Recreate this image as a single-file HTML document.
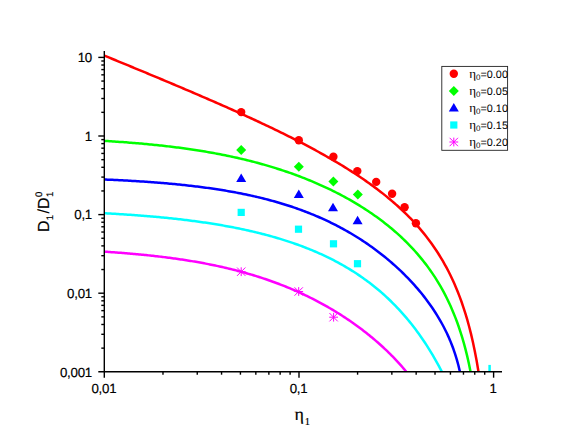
<!DOCTYPE html>
<html><head><meta charset="utf-8"><title>chart</title>
<style>html,body{margin:0;padding:0;background:#fff;}svg{display:block;}text{font-family:"Liberation Sans",sans-serif;fill:#000;stroke:#000;stroke-width:0.18px;text-rendering:geometricPrecision;}.ser{font-family:"Liberation Serif",serif;}</style></head><body>
<svg width="583" height="446" viewBox="0 0 583 446">
<rect width="583" height="446" fill="#fff"/>
<defs><clipPath id="c"><rect x="104.3" y="40" width="420" height="331.7"/></clipPath></defs>
<g fill="none" stroke-width="2.5" stroke-linejoin="round" clip-path="url(#c)">
<path stroke="#ff00ff" d="M104.40,251.68 L105.79,251.77 L107.17,251.86 L108.56,251.95 L109.95,252.05 L111.33,252.14 L112.72,252.24 L114.11,252.34 L115.49,252.44 L116.88,252.54 L118.27,252.65 L119.65,252.75 L121.04,252.86 L122.43,252.97 L123.81,253.08 L125.20,253.19 L126.59,253.30 L127.97,253.42 L129.36,253.54 L130.75,253.66 L132.13,253.78 L133.52,253.90 L134.91,254.02 L136.29,254.15 L137.68,254.28 L139.07,254.41 L140.45,254.54 L141.84,254.68 L143.23,254.81 L144.61,254.95 L146.00,255.09 L147.39,255.24 L148.77,255.38 L150.16,255.53 L151.55,255.68 L152.93,255.83 L154.32,255.99 L155.71,256.14 L157.09,256.30 L158.48,256.46 L159.87,256.63 L161.25,256.79 L162.64,256.96 L164.03,257.13 L165.41,257.30 L166.80,257.48 L168.19,257.66 L169.57,257.84 L170.96,258.02 L172.35,258.21 L173.73,258.40 L175.12,258.59 L176.51,258.79 L177.89,258.99 L179.28,259.19 L180.67,259.39 L182.05,259.60 L183.44,259.81 L184.82,260.02 L186.21,260.24 L187.60,260.46 L188.98,260.68 L190.37,260.90 L191.76,261.13 L193.14,261.36 L194.53,261.60 L195.92,261.84 L197.30,262.08 L198.69,262.32 L200.08,262.57 L201.46,262.83 L202.85,263.08 L204.24,263.34 L205.62,263.61 L207.01,263.87 L208.40,264.14 L209.78,264.42 L211.17,264.70 L212.56,264.98 L213.94,265.26 L215.33,265.55 L216.72,265.85 L218.10,266.15 L219.49,266.45 L220.88,266.75 L222.26,267.07 L223.65,267.38 L225.04,267.70 L226.42,268.02 L227.81,268.35 L229.20,268.68 L230.58,269.02 L231.97,269.36 L233.36,269.71 L234.74,270.06 L236.13,270.41 L237.52,270.77 L238.90,271.14 L240.29,271.51 L241.68,271.88 L243.06,272.26 L244.45,272.64 L245.84,273.03 L247.22,273.43 L248.61,273.83 L250.00,274.23 L251.38,274.64 L252.77,275.06 L254.16,275.48 L255.54,275.90 L256.93,276.33 L258.32,276.77 L259.70,277.21 L261.09,277.66 L262.48,278.11 L263.86,278.57 L265.25,279.04 L266.64,279.51 L268.02,279.99 L269.41,280.47 L270.80,280.96 L272.18,281.45 L273.57,281.95 L274.96,282.46 L276.34,282.97 L277.73,283.49 L279.12,284.02 L280.50,284.55 L281.89,285.09 L283.28,285.63 L284.66,286.19 L286.05,286.74 L287.44,287.31 L288.82,287.88 L290.21,288.46 L291.60,289.05 L292.98,289.64 L294.37,290.24 L295.76,290.84 L297.14,291.46 L298.53,292.08 L299.92,292.71 L301.30,293.34 L302.69,293.99 L304.08,294.64 L305.46,295.29 L306.85,295.96 L308.24,296.63 L309.62,297.31 L311.01,298.00 L312.40,298.70 L313.78,299.40 L315.17,300.12 L316.56,300.84 L317.94,301.57 L319.33,302.30 L320.72,303.05 L322.10,303.80 L323.49,304.57 L324.88,305.34 L326.26,306.12 L327.65,306.91 L329.04,307.71 L330.42,308.51 L331.81,309.33 L333.20,310.15 L334.58,310.99 L335.97,311.83 L337.36,312.69 L338.74,313.55 L340.13,314.42 L341.51,315.31 L342.90,316.20 L344.29,317.10 L345.67,318.02 L347.06,318.94 L348.45,319.88 L349.83,320.82 L351.22,321.78 L352.61,322.75 L353.99,323.73 L355.38,324.72 L356.77,325.72 L358.15,326.73 L359.54,327.76 L360.93,328.80 L362.31,329.85 L363.70,330.91 L365.09,331.99 L366.47,333.08 L367.86,334.18 L369.25,335.30 L370.63,336.43 L372.02,337.57 L373.41,338.73 L374.79,339.90 L376.18,341.09 L377.57,342.30 L378.95,343.52 L380.34,344.76 L381.73,346.01 L383.11,347.28 L384.50,348.57 L385.89,349.88 L387.27,351.21 L388.66,352.55 L390.05,353.92 L391.43,355.31 L392.82,356.72 L394.21,358.15 L395.59,359.60 L396.98,361.08 L398.37,362.58 L399.75,364.11 L401.14,365.66 L402.53,367.25 L403.91,368.86 L405.30,370.50 L406.69,372.18 L408.07,373.89"/>
<path stroke="#00ffff" d="M104.40,213.27 L105.95,213.35 L107.50,213.43 L109.05,213.52 L110.59,213.60 L112.14,213.69 L113.69,213.78 L115.24,213.87 L116.79,213.96 L118.34,214.06 L119.89,214.15 L121.44,214.25 L122.98,214.35 L124.53,214.45 L126.08,214.55 L127.63,214.65 L129.18,214.76 L130.73,214.86 L132.28,214.97 L133.83,215.08 L135.37,215.19 L136.92,215.31 L138.47,215.42 L140.02,215.54 L141.57,215.66 L143.12,215.78 L144.67,215.91 L146.22,216.03 L147.76,216.16 L149.31,216.29 L150.86,216.42 L152.41,216.55 L153.96,216.69 L155.51,216.83 L157.06,216.97 L158.61,217.11 L160.15,217.26 L161.70,217.40 L163.25,217.55 L164.80,217.71 L166.35,217.86 L167.90,218.02 L169.45,218.18 L171.00,218.34 L172.54,218.50 L174.09,218.67 L175.64,218.84 L177.19,219.01 L178.74,219.19 L180.29,219.36 L181.84,219.54 L183.39,219.73 L184.93,219.91 L186.48,220.10 L188.03,220.30 L189.58,220.49 L191.13,220.69 L192.68,220.89 L194.23,221.09 L195.78,221.30 L197.32,221.51 L198.87,221.72 L200.42,221.94 L201.97,222.16 L203.52,222.39 L205.07,222.61 L206.62,222.84 L208.17,223.08 L209.71,223.31 L211.26,223.56 L212.81,223.80 L214.36,224.05 L215.91,224.30 L217.46,224.56 L219.01,224.82 L220.56,225.08 L222.10,225.35 L223.65,225.62 L225.20,225.90 L226.75,226.18 L228.30,226.46 L229.85,226.75 L231.40,227.04 L232.95,227.34 L234.49,227.64 L236.04,227.95 L237.59,228.26 L239.14,228.58 L240.69,228.90 L242.24,229.22 L243.79,229.55 L245.34,229.89 L246.88,230.23 L248.43,230.57 L249.98,230.92 L251.53,231.28 L253.08,231.64 L254.63,232.00 L256.18,232.38 L257.73,232.75 L259.27,233.14 L260.82,233.52 L262.37,233.92 L263.92,234.32 L265.47,234.72 L267.02,235.14 L268.57,235.55 L270.11,235.98 L271.66,236.41 L273.21,236.85 L274.76,237.29 L276.31,237.74 L277.86,238.20 L279.41,238.66 L280.96,239.13 L282.50,239.61 L284.05,240.09 L285.60,240.59 L287.15,241.09 L288.70,241.59 L290.25,242.11 L291.80,242.63 L293.35,243.16 L294.89,243.70 L296.44,244.25 L297.99,244.80 L299.54,245.36 L301.09,245.94 L302.64,246.52 L304.19,247.11 L305.74,247.71 L307.28,248.31 L308.83,248.93 L310.38,249.56 L311.93,250.20 L313.48,250.84 L315.03,251.50 L316.58,252.17 L318.13,252.84 L319.67,253.53 L321.22,254.23 L322.77,254.94 L324.32,255.66 L325.87,256.39 L327.42,257.14 L328.97,257.89 L330.52,258.66 L332.06,259.44 L333.61,260.23 L335.16,261.04 L336.71,261.86 L338.26,262.69 L339.81,263.54 L341.36,264.40 L342.91,265.27 L344.45,266.16 L346.00,267.06 L347.55,267.98 L349.10,268.91 L350.65,269.86 L352.20,270.82 L353.75,271.80 L355.30,272.80 L356.84,273.81 L358.39,274.84 L359.94,275.89 L361.49,276.96 L363.04,278.05 L364.59,279.15 L366.14,280.27 L367.69,281.42 L369.23,282.58 L370.78,283.76 L372.33,284.97 L373.88,286.19 L375.43,287.44 L376.98,288.71 L378.53,290.00 L380.08,291.32 L381.62,292.66 L383.17,294.03 L384.72,295.42 L386.27,296.83 L387.82,298.27 L389.37,299.74 L390.92,301.24 L392.47,302.77 L394.01,304.32 L395.56,305.90 L397.11,307.52 L398.66,309.16 L400.21,310.84 L401.76,312.55 L403.31,314.30 L404.86,316.07 L406.40,317.89 L407.95,319.74 L409.50,321.63 L411.05,323.55 L412.60,325.52 L414.15,327.52 L415.70,329.57 L417.25,331.66 L418.79,333.79 L420.34,335.97 L421.89,338.20 L423.44,340.47 L424.99,342.79 L426.54,345.16 L428.09,347.58 L429.63,350.06 L431.18,352.59 L432.73,355.18 L434.28,357.83 L435.83,360.54 L437.38,363.30 L438.93,366.14 L440.48,369.04 L442.02,372.01 L443.57,375.04"/>
<path stroke="#0000ff" d="M104.40,179.49 L106.03,179.56 L107.66,179.63 L109.29,179.70 L110.92,179.78 L112.55,179.85 L114.19,179.93 L115.82,180.01 L117.45,180.09 L119.08,180.17 L120.71,180.26 L122.34,180.34 L123.97,180.43 L125.60,180.52 L127.23,180.61 L128.86,180.70 L130.49,180.80 L132.13,180.89 L133.76,180.99 L135.39,181.09 L137.02,181.19 L138.65,181.29 L140.28,181.40 L141.91,181.50 L143.54,181.61 L145.17,181.72 L146.80,181.84 L148.44,181.95 L150.07,182.07 L151.70,182.19 L153.33,182.31 L154.96,182.43 L156.59,182.56 L158.22,182.69 L159.85,182.82 L161.48,182.95 L163.11,183.09 L164.74,183.23 L166.38,183.37 L168.01,183.51 L169.64,183.66 L171.27,183.81 L172.90,183.96 L174.53,184.11 L176.16,184.27 L177.79,184.43 L179.42,184.59 L181.05,184.76 L182.68,184.93 L184.32,185.10 L185.95,185.28 L187.58,185.46 L189.21,185.64 L190.84,185.83 L192.47,186.01 L194.10,186.21 L195.73,186.40 L197.36,186.60 L198.99,186.80 L200.62,187.01 L202.26,187.22 L203.89,187.44 L205.52,187.65 L207.15,187.88 L208.78,188.10 L210.41,188.33 L212.04,188.57 L213.67,188.81 L215.30,189.05 L216.93,189.30 L218.57,189.55 L220.20,189.80 L221.83,190.06 L223.46,190.33 L225.09,190.60 L226.72,190.87 L228.35,191.15 L229.98,191.44 L231.61,191.73 L233.24,192.02 L234.87,192.32 L236.51,192.63 L238.14,192.94 L239.77,193.26 L241.40,193.58 L243.03,193.90 L244.66,194.24 L246.29,194.58 L247.92,194.92 L249.55,195.27 L251.18,195.63 L252.81,195.99 L254.45,196.36 L256.08,196.74 L257.71,197.12 L259.34,197.51 L260.97,197.90 L262.60,198.30 L264.23,198.71 L265.86,199.13 L267.49,199.55 L269.12,199.98 L270.75,200.42 L272.39,200.86 L274.02,201.31 L275.65,201.77 L277.28,202.24 L278.91,202.71 L280.54,203.20 L282.17,203.69 L283.80,204.19 L285.43,204.70 L287.06,205.21 L288.70,205.74 L290.33,206.27 L291.96,206.81 L293.59,207.36 L295.22,207.92 L296.85,208.49 L298.48,209.07 L300.11,209.65 L301.74,210.25 L303.37,210.86 L305.00,211.47 L306.64,212.10 L308.27,212.74 L309.90,213.38 L311.53,214.04 L313.16,214.71 L314.79,215.38 L316.42,216.07 L318.05,216.77 L319.68,217.48 L321.31,218.20 L322.94,218.94 L324.58,219.68 L326.21,220.44 L327.84,221.20 L329.47,221.98 L331.10,222.78 L332.73,223.58 L334.36,224.40 L335.99,225.23 L337.62,226.07 L339.25,226.92 L340.88,227.79 L342.52,228.67 L344.15,229.57 L345.78,230.48 L347.41,231.40 L349.04,232.34 L350.67,233.29 L352.30,234.26 L353.93,235.24 L355.56,236.23 L357.19,237.24 L358.83,238.27 L360.46,239.31 L362.09,240.37 L363.72,241.45 L365.35,242.54 L366.98,243.65 L368.61,244.77 L370.24,245.91 L371.87,247.07 L373.50,248.25 L375.13,249.45 L376.77,250.66 L378.40,251.90 L380.03,253.15 L381.66,254.43 L383.29,255.72 L384.92,257.03 L386.55,258.37 L388.18,259.73 L389.81,261.11 L391.44,262.51 L393.07,263.94 L394.71,265.39 L396.34,266.86 L397.97,268.36 L399.60,269.89 L401.23,271.44 L402.86,273.02 L404.49,274.63 L406.12,276.27 L407.75,277.94 L409.38,279.64 L411.01,281.38 L412.65,283.15 L414.28,284.95 L415.91,286.80 L417.54,288.68 L419.17,290.60 L420.80,292.57 L422.43,294.59 L424.06,296.65 L425.69,298.76 L427.32,300.93 L428.96,303.16 L430.59,305.45 L432.22,307.80 L433.85,310.23 L435.48,312.74 L437.11,315.34 L438.74,318.03 L440.37,320.83 L442.00,323.74 L443.63,326.78 L445.26,329.97 L446.90,333.32 L448.53,336.87 L450.16,340.64 L451.79,344.69 L453.42,349.05 L455.05,353.82 L456.68,359.08 L458.31,365.01 L459.94,371.85"/>
<path stroke="#00ff00" d="M104.40,140.89 L106.08,140.99 L107.76,141.10 L109.44,141.20 L111.12,141.31 L112.80,141.42 L114.48,141.53 L116.16,141.64 L117.83,141.76 L119.51,141.88 L121.19,142.00 L122.87,142.12 L124.55,142.24 L126.23,142.37 L127.91,142.50 L129.59,142.63 L131.27,142.76 L132.95,142.90 L134.63,143.04 L136.31,143.18 L137.99,143.32 L139.67,143.46 L141.35,143.61 L143.02,143.76 L144.70,143.92 L146.38,144.07 L148.06,144.23 L149.74,144.39 L151.42,144.56 L153.10,144.73 L154.78,144.90 L156.46,145.07 L158.14,145.25 L159.82,145.42 L161.50,145.61 L163.18,145.79 L164.86,145.98 L166.54,146.17 L168.21,146.37 L169.89,146.57 L171.57,146.77 L173.25,146.97 L174.93,147.18 L176.61,147.40 L178.29,147.61 L179.97,147.83 L181.65,148.06 L183.33,148.28 L185.01,148.51 L186.69,148.75 L188.37,148.99 L190.05,149.23 L191.73,149.48 L193.40,149.73 L195.08,149.98 L196.76,150.24 L198.44,150.50 L200.12,150.77 L201.80,151.04 L203.48,151.32 L205.16,151.60 L206.84,151.88 L208.52,152.17 L210.20,152.47 L211.88,152.76 L213.56,153.07 L215.24,153.37 L216.92,153.69 L218.59,154.01 L220.27,154.33 L221.95,154.66 L223.63,154.99 L225.31,155.33 L226.99,155.67 L228.67,156.02 L230.35,156.37 L232.03,156.73 L233.71,157.10 L235.39,157.47 L237.07,157.84 L238.75,158.22 L240.43,158.61 L242.11,159.00 L243.78,159.40 L245.46,159.80 L247.14,160.21 L248.82,160.63 L250.50,161.05 L252.18,161.48 L253.86,161.91 L255.54,162.36 L257.22,162.80 L258.90,163.26 L260.58,163.72 L262.26,164.18 L263.94,164.66 L265.62,165.14 L267.30,165.62 L268.97,166.12 L270.65,166.62 L272.33,167.12 L274.01,167.64 L275.69,168.16 L277.37,168.69 L279.05,169.23 L280.73,169.77 L282.41,170.32 L284.09,170.88 L285.77,171.45 L287.45,172.02 L289.13,172.60 L290.81,173.19 L292.49,173.79 L294.16,174.40 L295.84,175.01 L297.52,175.63 L299.20,176.26 L300.88,176.90 L302.56,177.55 L304.24,178.21 L305.92,178.87 L307.60,179.55 L309.28,180.23 L310.96,180.92 L312.64,181.63 L314.32,182.34 L316.00,183.06 L317.68,183.79 L319.35,184.53 L321.03,185.28 L322.71,186.04 L324.39,186.81 L326.07,187.59 L327.75,188.38 L329.43,189.18 L331.11,189.99 L332.79,190.82 L334.47,191.65 L336.15,192.50 L337.83,193.36 L339.51,194.23 L341.19,195.11 L342.87,196.00 L344.54,196.91 L346.22,197.83 L347.90,198.76 L349.58,199.70 L351.26,200.66 L352.94,201.63 L354.62,202.62 L356.30,203.62 L357.98,204.63 L359.66,205.66 L361.34,206.71 L363.02,207.77 L364.70,208.84 L366.38,209.93 L368.06,211.04 L369.73,212.17 L371.41,213.31 L373.09,214.47 L374.77,215.65 L376.45,216.85 L378.13,218.07 L379.81,219.30 L381.49,220.56 L383.17,221.84 L384.85,223.14 L386.53,224.46 L388.21,225.81 L389.89,227.18 L391.57,228.58 L393.25,230.00 L394.92,231.44 L396.60,232.92 L398.28,234.42 L399.96,235.95 L401.64,237.51 L403.32,239.10 L405.00,240.73 L406.68,242.39 L408.36,244.08 L410.04,245.81 L411.72,247.59 L413.40,249.40 L415.08,251.25 L416.76,253.15 L418.43,255.09 L420.11,257.08 L421.79,259.13 L423.47,261.22 L425.15,263.38 L426.83,265.59 L428.51,267.87 L430.19,270.21 L431.87,272.63 L433.55,275.12 L435.23,277.69 L436.91,280.35 L438.59,283.10 L440.27,285.95 L441.95,288.90 L443.62,291.97 L445.30,295.16 L446.98,298.49 L448.66,301.96 L450.34,305.59 L452.02,309.40 L453.70,313.40 L455.38,317.61 L457.06,322.06 L458.74,326.78 L460.42,331.80 L462.10,337.17 L463.78,342.92 L465.46,349.14 L467.14,355.88 L468.81,363.27 L470.49,371.42"/>
<path stroke="#ff0000" d="M104.40,55.64 L106.28,56.41 L108.16,57.18 L110.04,57.96 L111.92,58.73 L113.80,59.50 L115.68,60.27 L117.56,61.05 L119.44,61.82 L121.32,62.60 L123.20,63.37 L125.08,64.15 L126.96,64.92 L128.84,65.70 L130.72,66.48 L132.60,67.25 L134.48,68.03 L136.36,68.81 L138.24,69.59 L140.12,70.37 L142.00,71.15 L143.88,71.93 L145.76,72.71 L147.64,73.49 L149.52,74.28 L151.40,75.06 L153.28,75.84 L155.16,76.63 L157.04,77.41 L158.92,78.20 L160.80,78.99 L162.68,79.77 L164.56,80.56 L166.44,81.35 L168.32,82.14 L170.20,82.93 L172.08,83.73 L173.96,84.52 L175.84,85.31 L177.72,86.11 L179.60,86.90 L181.48,87.70 L183.36,88.50 L185.24,89.30 L187.12,90.10 L189.00,90.90 L190.88,91.70 L192.76,92.50 L194.64,93.31 L196.52,94.11 L198.40,94.92 L200.28,95.73 L202.16,96.54 L204.04,97.35 L205.92,98.17 L207.80,98.98 L209.68,99.80 L211.56,100.62 L213.44,101.44 L215.32,102.26 L217.20,103.08 L219.08,103.91 L220.96,104.73 L222.84,105.56 L224.72,106.39 L226.60,107.23 L228.48,108.06 L230.36,108.90 L232.24,109.74 L234.12,110.58 L236.00,111.42 L237.88,112.27 L239.76,113.12 L241.64,113.97 L243.52,114.82 L245.40,115.68 L247.28,116.54 L249.16,117.40 L251.04,118.26 L252.92,119.13 L254.80,120.00 L256.68,120.87 L258.56,121.75 L260.44,122.63 L262.32,123.51 L264.20,124.40 L266.08,125.29 L267.96,126.18 L269.84,127.08 L271.72,127.98 L273.60,128.88 L275.48,129.79 L277.36,130.70 L279.24,131.62 L281.12,132.54 L283.00,133.46 L284.88,134.39 L286.76,135.33 L288.64,136.26 L290.52,137.21 L292.40,138.15 L294.28,139.11 L296.16,140.07 L298.04,141.03 L299.92,142.00 L301.80,142.97 L303.68,143.95 L305.56,144.94 L307.44,145.93 L309.32,146.93 L311.20,147.93 L313.08,148.95 L314.96,149.96 L316.84,150.99 L318.72,152.02 L320.60,153.06 L322.48,154.11 L324.36,155.16 L326.24,156.22 L328.12,157.29 L330.00,158.37 L331.88,159.46 L333.76,160.56 L335.64,161.66 L337.52,162.78 L339.40,163.90 L341.28,165.04 L343.16,166.19 L345.04,167.34 L346.92,168.51 L348.80,169.69 L350.68,170.88 L352.56,172.08 L354.44,173.30 L356.32,174.52 L358.20,175.77 L360.08,177.02 L361.96,178.29 L363.84,179.58 L365.72,180.88 L367.60,182.20 L369.48,183.53 L371.36,184.88 L373.24,186.25 L375.12,187.63 L377.00,189.04 L378.88,190.47 L380.76,191.91 L382.64,193.38 L384.52,194.87 L386.40,196.39 L388.28,197.93 L390.16,199.49 L392.04,201.08 L393.92,202.70 L395.80,204.35 L397.68,206.03 L399.56,207.74 L401.44,209.48 L403.32,211.25 L405.20,213.07 L407.08,214.92 L408.96,216.81 L410.84,218.74 L412.72,220.72 L414.60,222.74 L416.48,224.81 L418.36,226.93 L420.24,229.11 L422.12,231.35 L424.00,233.64 L425.88,236.00 L427.76,238.43 L429.64,240.94 L431.52,243.51 L433.40,246.18 L435.28,248.93 L437.16,251.77 L439.04,254.72 L440.92,257.78 L442.80,260.95 L444.68,264.26 L446.56,267.70 L448.44,271.29 L450.32,275.04 L452.20,278.97 L454.08,283.10 L455.96,287.45 L457.84,292.04 L459.72,296.89 L461.60,302.04 L463.48,307.53 L465.36,313.40 L467.24,319.71 L469.12,326.52 L471.00,333.91 L472.88,341.99 L474.76,350.90 L476.64,360.81 L478.52,371.97"/>
</g>
<line x1="489.6" y1="364.9" x2="489.6" y2="371.7" stroke="#00ffff" stroke-width="2.5"/>
<g stroke="#000" stroke-width="1.4" fill="none">
<line x1="104.3" y1="51.0" x2="104.3" y2="377.7"/>
<line x1="98.3" y1="371.7" x2="502.0" y2="371.7"/>
<line x1="101.3" y1="348.14" x2="104.3" y2="348.14"/>
<line x1="101.3" y1="334.30" x2="104.3" y2="334.30"/>
<line x1="101.3" y1="324.48" x2="104.3" y2="324.48"/>
<line x1="101.3" y1="316.86" x2="104.3" y2="316.86"/>
<line x1="101.3" y1="310.64" x2="104.3" y2="310.64"/>
<line x1="101.3" y1="305.38" x2="104.3" y2="305.38"/>
<line x1="101.3" y1="300.82" x2="104.3" y2="300.82"/>
<line x1="101.3" y1="296.80" x2="104.3" y2="296.80"/>
<line x1="98.3" y1="293.20" x2="104.3" y2="293.20"/>
<line x1="101.3" y1="269.54" x2="104.3" y2="269.54"/>
<line x1="101.3" y1="255.70" x2="104.3" y2="255.70"/>
<line x1="101.3" y1="245.88" x2="104.3" y2="245.88"/>
<line x1="101.3" y1="238.26" x2="104.3" y2="238.26"/>
<line x1="101.3" y1="232.04" x2="104.3" y2="232.04"/>
<line x1="101.3" y1="226.78" x2="104.3" y2="226.78"/>
<line x1="101.3" y1="222.22" x2="104.3" y2="222.22"/>
<line x1="101.3" y1="218.20" x2="104.3" y2="218.20"/>
<line x1="98.3" y1="214.60" x2="104.3" y2="214.60"/>
<line x1="101.3" y1="190.94" x2="104.3" y2="190.94"/>
<line x1="101.3" y1="177.10" x2="104.3" y2="177.10"/>
<line x1="101.3" y1="167.28" x2="104.3" y2="167.28"/>
<line x1="101.3" y1="159.66" x2="104.3" y2="159.66"/>
<line x1="101.3" y1="153.44" x2="104.3" y2="153.44"/>
<line x1="101.3" y1="148.18" x2="104.3" y2="148.18"/>
<line x1="101.3" y1="143.62" x2="104.3" y2="143.62"/>
<line x1="101.3" y1="139.60" x2="104.3" y2="139.60"/>
<line x1="98.3" y1="136.00" x2="104.3" y2="136.00"/>
<line x1="101.3" y1="112.34" x2="104.3" y2="112.34"/>
<line x1="101.3" y1="98.50" x2="104.3" y2="98.50"/>
<line x1="101.3" y1="88.68" x2="104.3" y2="88.68"/>
<line x1="101.3" y1="81.06" x2="104.3" y2="81.06"/>
<line x1="101.3" y1="74.84" x2="104.3" y2="74.84"/>
<line x1="101.3" y1="69.58" x2="104.3" y2="69.58"/>
<line x1="101.3" y1="65.02" x2="104.3" y2="65.02"/>
<line x1="101.3" y1="61.00" x2="104.3" y2="61.00"/>
<line x1="98.3" y1="57.40" x2="104.3" y2="57.40"/>
<line x1="162.98" y1="371.7" x2="162.98" y2="374.7"/>
<line x1="197.25" y1="371.7" x2="197.25" y2="374.7"/>
<line x1="221.56" y1="371.7" x2="221.56" y2="374.7"/>
<line x1="240.42" y1="371.7" x2="240.42" y2="374.7"/>
<line x1="255.83" y1="371.7" x2="255.83" y2="374.7"/>
<line x1="268.86" y1="371.7" x2="268.86" y2="374.7"/>
<line x1="280.14" y1="371.7" x2="280.14" y2="374.7"/>
<line x1="290.10" y1="371.7" x2="290.10" y2="374.7"/>
<line x1="299.00" y1="371.7" x2="299.00" y2="377.7"/>
<line x1="357.58" y1="371.7" x2="357.58" y2="374.7"/>
<line x1="391.85" y1="371.7" x2="391.85" y2="374.7"/>
<line x1="416.16" y1="371.7" x2="416.16" y2="374.7"/>
<line x1="435.02" y1="371.7" x2="435.02" y2="374.7"/>
<line x1="450.43" y1="371.7" x2="450.43" y2="374.7"/>
<line x1="463.46" y1="371.7" x2="463.46" y2="374.7"/>
<line x1="474.74" y1="371.7" x2="474.74" y2="374.7"/>
<line x1="484.70" y1="371.7" x2="484.70" y2="374.7"/>
<line x1="493.60" y1="371.7" x2="493.60" y2="377.7"/>
</g>
<text x="92" y="62.10" font-size="13.3" text-anchor="end" letter-spacing="-0.25">10</text>
<text x="92" y="140.70" font-size="13.3" text-anchor="end" letter-spacing="-0.25">1</text>
<text x="92" y="219.30" font-size="13.3" text-anchor="end" letter-spacing="-0.25">0,1</text>
<text x="92" y="297.90" font-size="13.3" text-anchor="end" letter-spacing="-0.25">0,01</text>
<text x="92" y="376.50" font-size="13.3" text-anchor="end" letter-spacing="-0.25">0,001</text>
<text x="103.90" y="392.9" font-size="13.3" text-anchor="middle" letter-spacing="-0.25">0,01</text>
<text x="298.50" y="392.9" font-size="13.3" text-anchor="middle" letter-spacing="-0.25">0,1</text>
<text x="493.10" y="392.9" font-size="13.3" text-anchor="middle" letter-spacing="-0.25">1</text>
<circle cx="241.2" cy="112.1" r="4.2" fill="#ff0000"/>
<circle cx="298.8" cy="140.2" r="4.2" fill="#ff0000"/>
<circle cx="333.4" cy="156.8" r="4.2" fill="#ff0000"/>
<circle cx="357.3" cy="171.1" r="4.2" fill="#ff0000"/>
<circle cx="376.2" cy="181.9" r="4.2" fill="#ff0000"/>
<circle cx="392.1" cy="193.7" r="4.2" fill="#ff0000"/>
<circle cx="404.6" cy="207.2" r="4.2" fill="#ff0000"/>
<circle cx="415.9" cy="223.3" r="4.2" fill="#ff0000"/>
<path d="M236.2,150.1 L241.2,145.1 L246.2,150.1 L241.2,155.1Z" fill="#00ff00"/>
<path d="M293.8,166.8 L298.8,161.8 L303.8,166.8 L298.8,171.8Z" fill="#00ff00"/>
<path d="M328.4,181.4 L333.4,176.4 L338.4,181.4 L333.4,186.4Z" fill="#00ff00"/>
<path d="M352.8,194.5 L357.8,189.5 L362.8,194.5 L357.8,199.5Z" fill="#00ff00"/>
<path d="M236.2,182.05 L241.2,173.55 L246.2,182.05Z" fill="#0000ff"/>
<path d="M293.8,198.05 L298.8,189.55 L303.8,198.05Z" fill="#0000ff"/>
<path d="M328.0,211.15 L333,202.65 L338.0,211.15Z" fill="#0000ff"/>
<path d="M352.6,224.25 L357.6,215.75 L362.6,224.25Z" fill="#0000ff"/>
<rect x="237.6" y="208.8" width="7.2" height="7.2" fill="#00ffff"/>
<rect x="294.9" y="225.6" width="7.2" height="7.2" fill="#00ffff"/>
<rect x="329.9" y="240.20000000000002" width="7.2" height="7.2" fill="#00ffff"/>
<rect x="353.9" y="260.09999999999997" width="7.2" height="7.2" fill="#00ffff"/>
<g stroke="#ff00ff" stroke-width="1" fill="none"><line x1="236.79999999999998" y1="271.7" x2="245.6" y2="271.7"/><line x1="241.2" y1="267.3" x2="241.2" y2="276.09999999999997"/><line x1="237.02" y1="267.52" x2="245.38" y2="275.88"/><line x1="237.02" y1="275.88" x2="245.38" y2="267.52"/></g>
<g stroke="#ff00ff" stroke-width="1" fill="none"><line x1="294.3" y1="291.5" x2="303.09999999999997" y2="291.5"/><line x1="298.7" y1="287.1" x2="298.7" y2="295.9"/><line x1="294.52" y1="287.32" x2="302.88" y2="295.68"/><line x1="294.52" y1="295.68" x2="302.88" y2="287.32"/></g>
<g stroke="#ff00ff" stroke-width="1" fill="none"><line x1="329.20000000000005" y1="317.2" x2="338.0" y2="317.2"/><line x1="333.6" y1="312.8" x2="333.6" y2="321.59999999999997"/><line x1="329.42" y1="313.02" x2="337.78" y2="321.38"/><line x1="329.42" y1="321.38" x2="337.78" y2="313.02"/></g>
<rect x="441.8" y="66.4" width="65.8" height="83.9" fill="#fff" stroke="#222" stroke-width="0.9"/>
<circle cx="453.8" cy="73.8" r="4.2" fill="#ff0000"/>
<text y="77.6" font-size="10.8" style="stroke:none"><tspan x="469.3" class="ser" font-size="13">η</tspan><tspan dy="2.6" font-size="8">0</tspan><tspan dy="-2.6">=0.00</tspan></text>
<path d="M448.8,90.9 L453.8,85.9 L458.8,90.9 L453.8,95.9Z" fill="#00ff00"/>
<text y="94.7" font-size="10.8" style="stroke:none"><tspan x="469.3" class="ser" font-size="13">η</tspan><tspan dy="2.6" font-size="8">0</tspan><tspan dy="-2.6">=0.05</tspan></text>
<path d="M448.8,111.55 L453.8,103.05 L458.8,111.55Z" fill="#0000ff"/>
<text y="111.8" font-size="10.8" style="stroke:none"><tspan x="469.3" class="ser" font-size="13">η</tspan><tspan dy="2.6" font-size="8">0</tspan><tspan dy="-2.6">=0.10</tspan></text>
<rect x="450.2" y="121.4" width="7.2" height="7.2" fill="#00ffff"/>
<text y="128.8" font-size="10.8" style="stroke:none"><tspan x="469.3" class="ser" font-size="13">η</tspan><tspan dy="2.6" font-size="8">0</tspan><tspan dy="-2.6">=0.15</tspan></text>
<g stroke="#ff00ff" stroke-width="1" fill="none"><line x1="449.40000000000003" y1="142" x2="458.2" y2="142"/><line x1="453.8" y1="137.6" x2="453.8" y2="146.4"/><line x1="449.62" y1="137.82" x2="457.98" y2="146.18"/><line x1="449.62" y1="146.18" x2="457.98" y2="137.82"/></g>
<text y="145.8" font-size="10.8" style="stroke:none"><tspan x="469.3" class="ser" font-size="13">η</tspan><tspan dy="2.6" font-size="8">0</tspan><tspan dy="-2.6">=0.20</tspan></text>
<text x="294.6" y="419.9" font-size="18" class="ser">η<tspan dx="0.8" dy="4.6" font-size="10.5">1</tspan></text>
<g transform="translate(49.2,231.9) rotate(-90)" font-size="16"><text x="0" y="0">D</text><text x="11.55" y="4" font-size="9.5">1</text><text x="18.4" y="0">/</text><text x="23.0" y="0">D</text><text x="35.0" y="4" font-size="9.5">1</text><text x="35.0" y="-7.5" font-size="9.5">0</text></g>
</svg></body></html>
